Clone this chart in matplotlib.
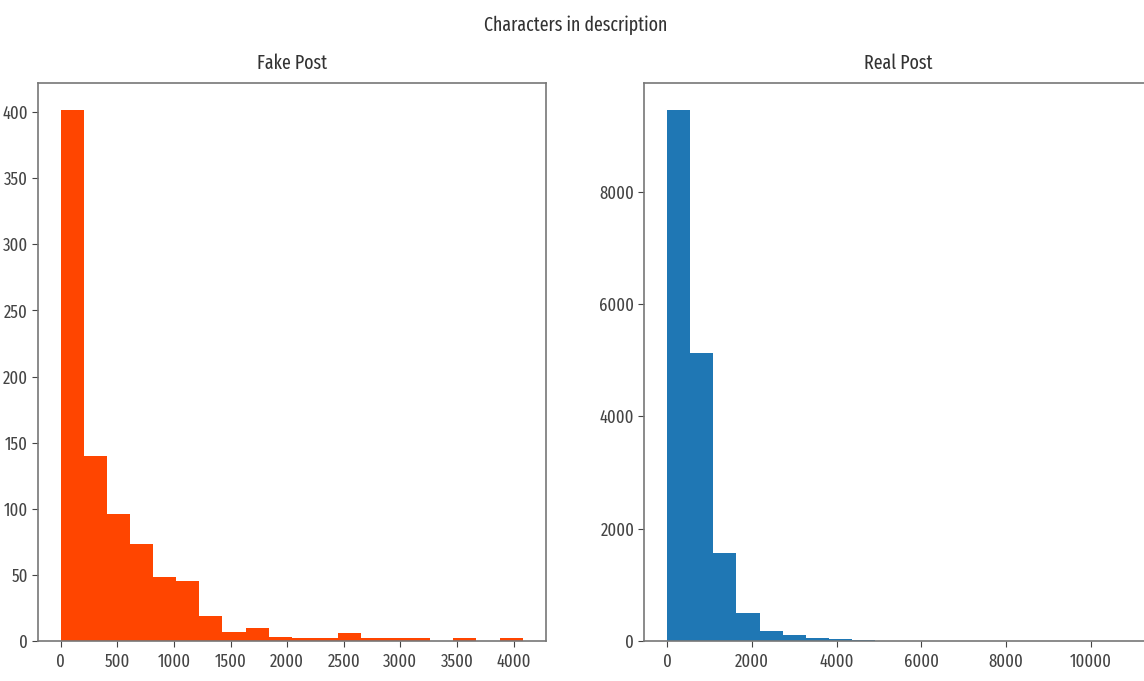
import numpy as np
import matplotlib
matplotlib.use("Agg")
import matplotlib.pyplot as plt

plt.rcParams['font.family'] = ['Fira Sans Extra Condensed', 'DejaVu Sans']

# Histogram data (20 equal-width bins each)
fake_range = (0, 4080)
fake_counts = [402, 140, 96, 73, 48, 45, 19, 7, 10, 3, 2, 2, 6, 2, 2, 2, 0, 2, 0, 2]
real_range = (0, 10900)
real_counts = [9460, 5120, 1560, 494, 167, 107, 48, 25, 8, 4, 2, 1, 1, 0, 0, 0, 0, 0, 0, 1]

suptitle = "Characters in description"
titles = ["Fake Post", "Real Post"]
colors = ["#FF4500", "#1f77b4"]

fig = plt.figure(figsize=(11.44, 6.81), dpi=100)
ax1 = fig.add_axes([0.033, 0.059, 0.444, 0.819])
ax2 = fig.add_axes([0.563, 0.059, 0.444, 0.819])

for ax, rng, counts, title, color in [
    (ax1, fake_range, fake_counts, titles[0], colors[0]),
    (ax2, real_range, real_counts, titles[1], colors[1]),
]:
    edges = np.linspace(rng[0], rng[1], len(counts) + 1)
    ax.hist(edges[:-1], bins=edges, weights=counts, color=color)
    ax.set_title(title, fontsize=14, color='#333333', pad=10)
    for s in ax.spines.values():
        s.set_color('#777777')
        s.set_linewidth(1.2)
    ax.tick_params(labelsize=13, colors='#444444', length=4, pad=3)
    ax.tick_params(axis='x', pad=5)

ax1.set_yticks(np.arange(0, 401, 50))
ax1.set_xticks(np.arange(0, 4001, 500))
ax2.set_yticks(np.arange(0, 8001, 2000))
ax2.set_xticks(np.arange(0, 10001, 2000))

fig.suptitle(suptitle, x=0.503, y=0.978, fontsize=14, color='#333333')

fig.savefig("out.png", dpi=100)
